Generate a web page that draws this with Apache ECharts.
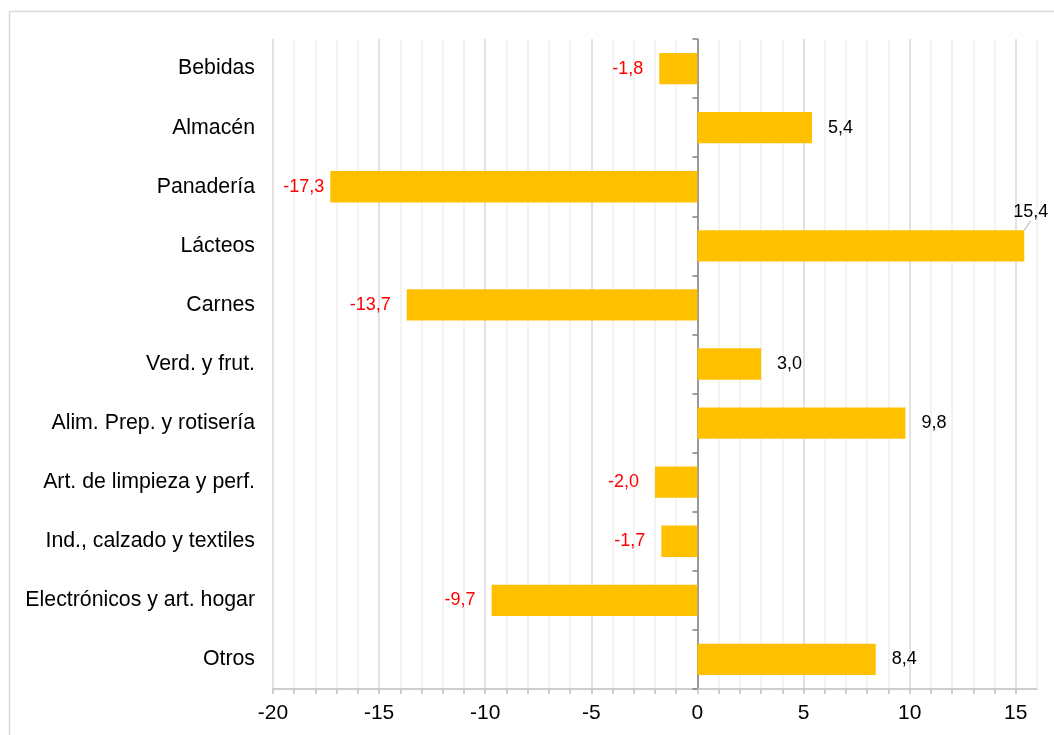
<!DOCTYPE html>
<html>
<head>
<meta charset="utf-8">
<script src="https://cdn.jsdelivr.net/npm/echarts@6/dist/echarts.min.js"></script>
<style>html,body{margin:0;padding:0;background:#fff}#c{width:1054px;height:735px}</style>
</head>
<body>
<div id="c"></div>
<script>
const categories = ["Bebidas","Almacén","Panadería","Lácteos","Carnes","Verd. y frut.","Alim. Prep. y rotisería","Art. de limpieza y perf.","Ind., calzado y textiles","Electrónicos y art. hogar","Otros"];
const values = [-1.8, 5.4, -17.3, 15.4, -13.7, 3.0, 9.8, -2.0, -1.7, -9.7, 8.4];
const xTickLabels = [-20, -15, -10, -5, 0, 5, 10, 15];

const FONT = '"Liberation Sans", Arial, sans-serif';
const fmt = v => v.toFixed(1).replace('.', ',');
const movedIndex = categories.indexOf("Lácteos");
const nudgedIndex = categories.indexOf("Panadería");

const data = values.map((v, i) => ({
  value: v,
  label: {
    position: v < 0 ? 'left' : 'right',
    color: v < 0 ? '#ff0000' : '#000000'
  },
  labelLine: i === movedIndex ? { show: true, lineStyle: { color: '#a6a6a6', width: 1 } } : { show: false }
}));

const chart = echarts.init(document.getElementById('c'));
chart.setOption({
  animation: false,
  backgroundColor: '#ffffff',
  graphic: [{
    type: 'rect', left: 7, top: 9, silent: true,
    shape: { width: 1200, height: 900 },
    style: { fill: 'none', stroke: '#d9d9d9', lineWidth: 1.5 }
  }],
  grid: { left: 273, right: 17, top: 39, bottom: 46, containLabel: false },
  xAxis: {
    type: 'value', min: -20, max: 16, interval: 1,
    axisLine: { show: true, onZero: false, lineStyle: { color: '#bfbfbf', width: 1.5 } },
    axisTick: { show: true, length: 5, lineStyle: { color: '#bfbfbf', width: 1.5 } },
    axisLabel: {
      fontFamily: FONT, fontSize: 21, color: '#000', margin: 14,
      showMaxLabel: false,
      formatter: v => xTickLabels.includes(v) ? String(v) : ''
    },
    splitLine: { show: true, lineStyle: { color: ['#d9d9d9','#efefef','#efefef','#efefef','#efefef'], width: 1.5 } }
  },
  yAxis: [{
    type: 'category', data: categories, inverse: true,
    axisLine: { show: false, onZero: false },
    axisTick: { show: false },
    axisLabel: { fontFamily: FONT, fontSize: 21.3, color: '#000', margin: 18 },
    splitLine: { show: false }
  }, {
    type: 'category', data: categories, inverse: true, position: 'left',
    axisLine: { show: true, onZero: true, lineStyle: { color: '#808080', width: 1.5 } },
    axisTick: { show: true, length: 5, lineStyle: { color: '#808080', width: 1.5 } },
    axisLabel: { show: false },
    splitLine: { show: false }
  }],
  series: [{
    type: 'bar', data: data, yAxisIndex: 0,
    barCategoryGap: '47%',
    itemStyle: { color: '#FFC000' },
    label: {
      show: true, distance: 16, fontFamily: FONT, fontSize: 18,
      formatter: p => fmt(p.value)
    },
    labelLayout: p => p.dataIndex === movedIndex ? { dx: -27, dy: -34 }
                    : p.dataIndex === nudgedIndex ? { dx: 10 } : {},
    z: 1
  }]
});
</script>
</body>
</html>
